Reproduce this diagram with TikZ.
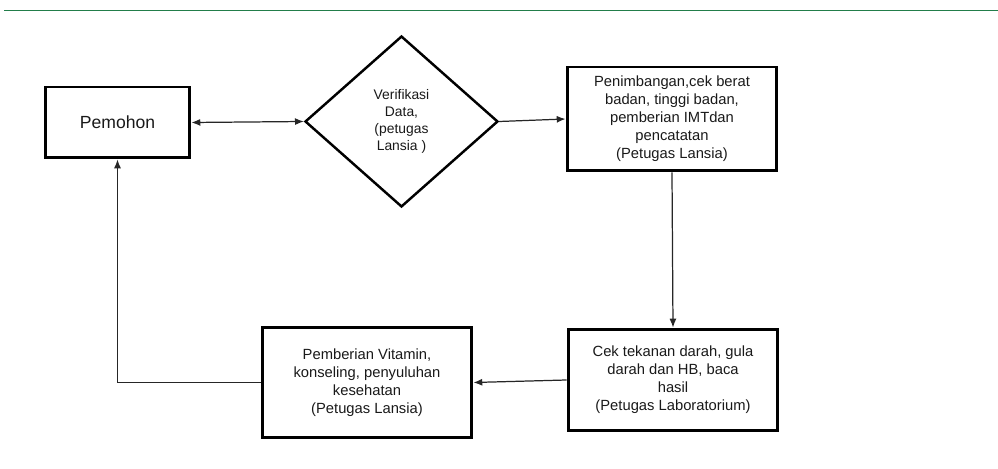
\documentclass[tikz,border=0pt]{standalone}
\usepackage{fontspec}
\setmainfont{Liberation Sans}
\usepackage{xcolor}
\usetikzlibrary{arrows.meta, positioning, shapes.geometric}
\definecolor{rulegreen}{RGB}{34,125,74}

\begin{document}
\begin{tikzpicture}[x=0.02cm, y=-0.02cm,
    every node/.style={font=\fontsize{8.4}{10.2}\selectfont, text=black!90},
    stepbox/.style={rectangle, draw=black, line width=1.7pt, align=center, inner sep=0pt},
    link/.style={-{Latex[length=5pt,width=4pt]}, line width=0.7pt, black!85}]
    \useasboundingbox (0,0) rectangle (998,469);

    % Header rule
    \draw[rulegreen, line width=1pt] (4,10.5) -- (998,10.5);

    % Applicant and verification
    \node[stepbox, minimum width=2.9cm, minimum height=1.42cm, font=\fontsize{10}{12}\selectfont] (P) at (117.5,122.5) {Pemohon};
    \node[diamond, draw=black, line width=1.4pt, inner sep=0pt, minimum width=3.86cm, minimum height=3.42cm,
          align=center, font=\fontsize{7.9}{9.6}\selectfont] (V) at (401.5,121.5)
          {Verifikasi\\Data,\\(petugas\\Lansia )};

    % Service steps
    \node[stepbox, minimum width=4.2cm, minimum height=2.08cm] (B2) at (672,119)
          {Penimbangan,cek berat\\badan, tinggi badan,\\pemberian IMTdan\\pencatatan\\(Petugas Lansia)};
    \node[stepbox, minimum width=4.2cm, minimum height=2.04cm] (B3) at (673,380)
          {Cek tekanan darah, gula\\darah dan HB, baca\\hasil\\(Petugas Laboratorium)};
    \node[stepbox, minimum width=4.2cm, minimum height=2.22cm] (B4) at (367,382.5)
          {Pemberian Vitamin,\\konseling, penyuluhan\\kesehatan\\(Petugas Lansia)};

    % Connectors
    \draw[link, {Latex[length=5pt,width=4pt]}-{Latex[length=5pt,width=4pt]}] (P.east) -- (V.west);
    \draw[link] (V.east) -- (B2.west);
    \draw[link] (B2.south) -- (B3.north);
    \draw[link] (B3.west) -- (B4.east);
    \draw[link] (B4.west) -| (P.south);
\end{tikzpicture}
\end{document}
